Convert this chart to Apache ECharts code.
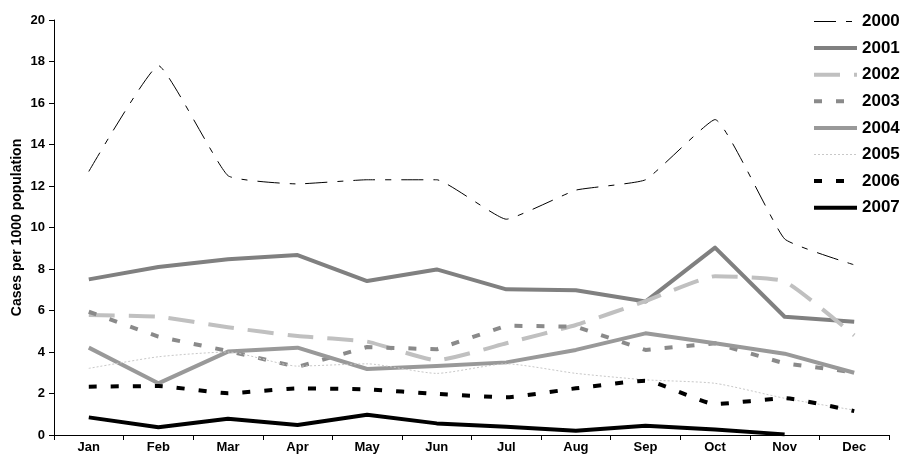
<!DOCTYPE html>
<html>
<head>
<meta charset="utf-8">
<script src="https://cdn.jsdelivr.net/npm/echarts@6/dist/echarts.min.js"></script>
<style>
  html, body { margin: 0; padding: 0; background: #fff; }
  #chart { width: 902px; height: 459px; }
</style>
</head>
<body>
<div id="chart"></div>
<script>
// Monthly incidence, cases per 1000 population, 2000–2007
var months = ['Jan', 'Feb', 'Mar', 'Apr', 'May', 'Jun', 'Jul', 'Aug', 'Sep', 'Oct', 'Nov', 'Dec'];

var y2000 = [12.7, 17.8, 12.5, 12.1, 12.3, 12.3, 10.4, 11.8, 12.3, 15.2, 9.45, 8.2];
var y2001 = [7.5, 8.1, 8.47, 8.67, 7.42, 7.98, 7.02, 6.98, 6.43, 9.03, 5.7, 5.46];
var y2002 = [5.78, 5.7, 5.19, 4.77, 4.5, 3.6, 4.42, 5.3, 6.45, 7.65, 7.4, 4.8];
var y2003 = [5.94, 4.74, 4.05, 3.28, 4.24, 4.13, 5.27, 5.22, 4.1, 4.42, 3.45, 3.02];
var y2004 = [4.21, 2.49, 4.02, 4.21, 3.18, 3.32, 3.5, 4.1, 4.9, 4.42, 3.92, 3.0];
var y2005 = [3.21, 3.77, 4.0, 3.32, 3.43, 2.97, 3.43, 2.97, 2.66, 2.49, 1.77, 1.2];
var y2006 = [2.33, 2.36, 2.01, 2.25, 2.2, 1.98, 1.82, 2.25, 2.62, 1.49, 1.77, 1.15];
var y2007 = [0.85, 0.37, 0.78, 0.48, 0.98, 0.56, 0.4, 0.2, 0.45, 0.27, 0.03, null];

var yTicks = { min: 0, max: 20, interval: 2 };

var FONT = '"Liberation Sans", Arial, sans-serif';

function line(name, data, color, width, type, smooth) {
  return {
    name: name,
    type: 'line',
    data: data,
    symbol: 'none',
    smooth: smooth || false,
    connectNulls: false,
    lineStyle: { color: color, width: width, type: type, cap: 'butt', join: 'round' },
    itemStyle: { color: color },
    emphasis: { disabled: true }
  };
}

var series = [
  line('2000', y2000, '#000000', 1, [22, 10, 6, 10], 0.12),
  line('2001', y2001, '#808080', 4, 'solid'),
  line('2002', y2002, '#c0c0c0', 4, [26, 14], 0.15),
  line('2003', y2003, '#8a8a8a', 4, [8, 14]),
  line('2004', y2004, '#999999', 4, 'solid'),
  line('2005', y2005, '#c8c8c8', 1, [2, 2], 0.2),
  line('2006', y2006, '#000000', 4, [8, 14], 0.15),
  line('2007', y2007, '#000000', 4, 'solid')
];

// legend entries carry each series' own stroke width
var legendData = series.map(function (s) {
  return { name: s.name, lineStyle: { width: s.lineStyle.width } };
});

var chart = echarts.init(document.getElementById('chart'), null, { renderer: 'canvas' });
chart.setOption({
  animation: false,
  backgroundColor: '#ffffff',
  grid: { left: 54, right: 13, top: 20, bottom: 24, containLabel: false },
  legend: {
    orient: 'vertical',
    left: 807,
    top: 8,
    itemWidth: 43,
    itemHeight: 14,
    itemGap: 9.6,
    itemStyle: { opacity: 0 },
    textStyle: { fontFamily: FONT, fontWeight: 'bold', fontSize: 17, color: '#000' },
    data: legendData
  },
  xAxis: {
    type: 'category',
    data: months,
    boundaryGap: true,
    axisLine: { lineStyle: { color: '#000', width: 1 } },
    axisTick: { show: true, length: 5, alignWithLabel: false, lineStyle: { color: '#000' } },
    axisLabel: { fontFamily: FONT, fontWeight: 'bold', fontSize: 13, color: '#000', margin: 6 },
    splitLine: { show: false }
  },
  yAxis: {
    type: 'value',
    min: yTicks.min,
    max: yTicks.max,
    interval: yTicks.interval,
    name: 'Cases per 1000 population',
    nameLocation: 'middle',
    nameGap: 30,
    nameMoveOverlap: false,
    nameRotate: 90,
    nameTextStyle: { fontFamily: FONT, fontWeight: 'bold', fontSize: 14, color: '#000' },
    axisLine: { show: true, lineStyle: { color: '#000', width: 1 } },
    axisTick: { show: true, length: 5, lineStyle: { color: '#000' } },
    axisLabel: { fontFamily: FONT, fontWeight: 'bold', fontSize: 13, color: '#000', margin: 9 },
    splitLine: { show: false }
  },
  series: series
});
</script>
</body>
</html>
